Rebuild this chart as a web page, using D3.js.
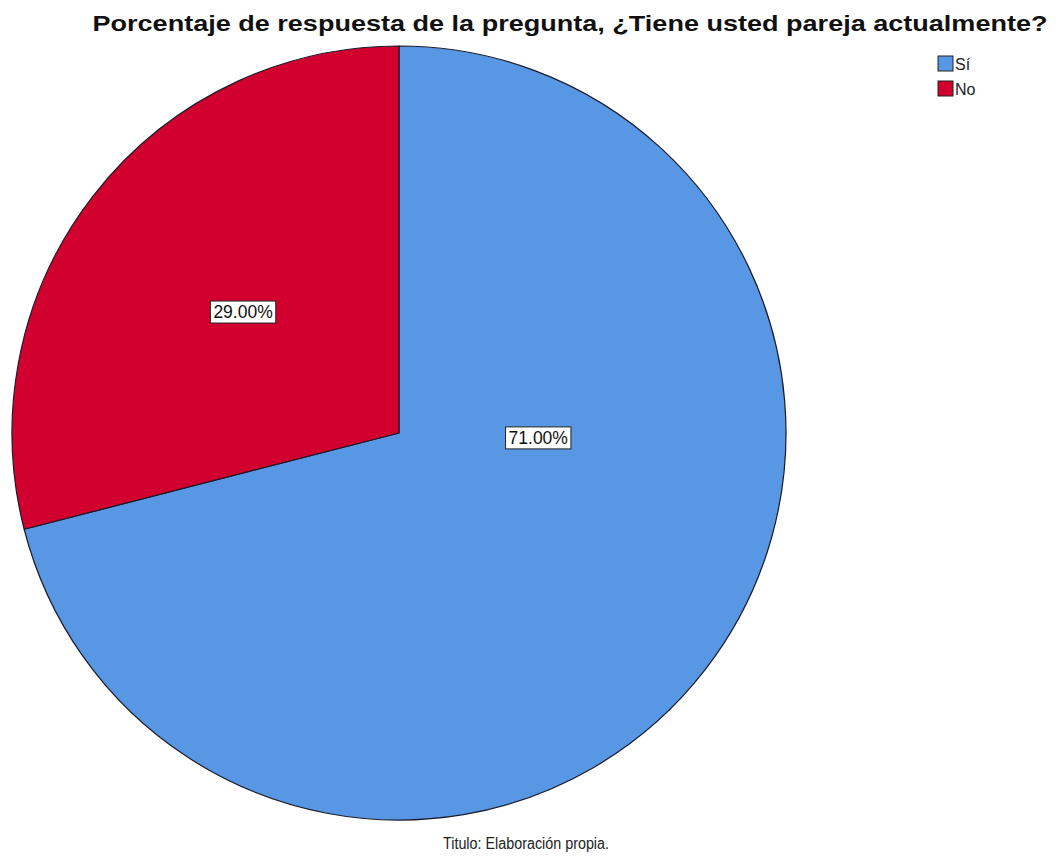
<!DOCTYPE html>
<html>
<head>
<meta charset="utf-8">
<script src="https://cdn.jsdelivr.net/npm/d3@7"></script>
<style>
html,body{margin:0;padding:0;background:#fff;}
svg{display:block;}
</style>
</head>
<body>
<svg id="chart" width="1058" height="856"></svg>
<script>
const categories = ["Sí", "No"];
const values = [71.00, 29.00];
const colors = ["#5897e3", "#d2002f"];
const labelTexts = ["71.00%", "29.00%"];
const titleText = "Porcentaje de respuesta de la pregunta, ¿Tiene usted pareja actualmente?";
const footerText = "Titulo: Elaboración propia.";
// label placement: angle offset relative to slice (fraction of slice span) and radius fraction
const labelAngleFrac = [0.36, 0.5];
const labelRadiusFrac = [0.36, 0.51];

const svg = d3.select("#chart");
const cx = 399, cy = 433, R = 387;

const pie = d3.pie().sort(null).value(d => d).startAngle(0).endAngle(2 * Math.PI);
const arcs = pie(values);
const arc = d3.arc().innerRadius(0).outerRadius(R);

const g = svg.append("g").attr("transform", `translate(${cx},${cy})`);
g.selectAll("path.slice")
  .data(arcs)
  .enter().append("path")
  .attr("class", "slice")
  .attr("d", arc)
  .attr("fill", (d, i) => colors[i])
  .attr("stroke", "#1b1b2a")
  .attr("stroke-width", 1.2)
  .attr("stroke-linejoin", "round");

// labels
const lbl = g.selectAll("g.lbl").data(arcs).enter().append("g").attr("class", "lbl")
  .attr("transform", (d, i) => {
    const a = d.startAngle + (d.endAngle - d.startAngle) * labelAngleFrac[i];
    const r = R * labelRadiusFrac[i];
    return `translate(${r * Math.sin(a)},${-r * Math.cos(a)})`;
  });
lbl.each(function(d, i) {
  const s = d3.select(this);
  const t = s.append("text")
    .attr("text-anchor", "middle")
    .attr("dominant-baseline", "central")
    .attr("font-family", "Liberation Sans, Arial, sans-serif")
    .attr("font-size", 17.5)
    .attr("fill", "#111")
    .text(labelTexts[i]);
  const bb = t.node().getBBox();
  s.insert("rect", "text")
    .attr("x", bb.x - 3)
    .attr("y", bb.y - 1)
    .attr("width", bb.width + 6)
    .attr("height", bb.height + 2)
    .attr("fill", "#fff")
    .attr("stroke", "#222")
    .attr("stroke-width", 1);
});

// title
svg.append("text")
  .attr("x", 570).attr("y", 31)
  .attr("text-anchor", "middle")
  .attr("font-family", "Liberation Sans, Arial, sans-serif")
  .attr("font-weight", "bold")
  .attr("font-size", 22)
  .attr("textLength", 955)
  .attr("lengthAdjust", "spacingAndGlyphs")
  .attr("fill", "#111")
  .text(titleText);

// legend
const leg = svg.append("g").attr("transform", "translate(938,56)");
const li = leg.selectAll("g").data(categories).enter().append("g")
  .attr("transform", (d, i) => `translate(0,${i * 25})`);
li.append("rect")
  .attr("width", 15).attr("height", 15)
  .attr("fill", (d, i) => colors[i])
  .attr("stroke", "#222").attr("stroke-width", 1);
li.append("text")
  .attr("x", 17).attr("y", 8)
  .attr("dominant-baseline", "central")
  .attr("font-family", "Liberation Sans, Arial, sans-serif")
  .attr("font-size", 16)
  .attr("fill", "#222")
  .text(d => d);

// footer
svg.append("text")
  .attr("x", 526).attr("y", 849)
  .attr("text-anchor", "middle")
  .attr("font-family", "Liberation Sans, Arial, sans-serif")
  .attr("font-size", 16)
  .attr("textLength", 166)
  .attr("lengthAdjust", "spacingAndGlyphs")
  .attr("fill", "#222")
  .text(footerText);
</script>
</body>
</html>
